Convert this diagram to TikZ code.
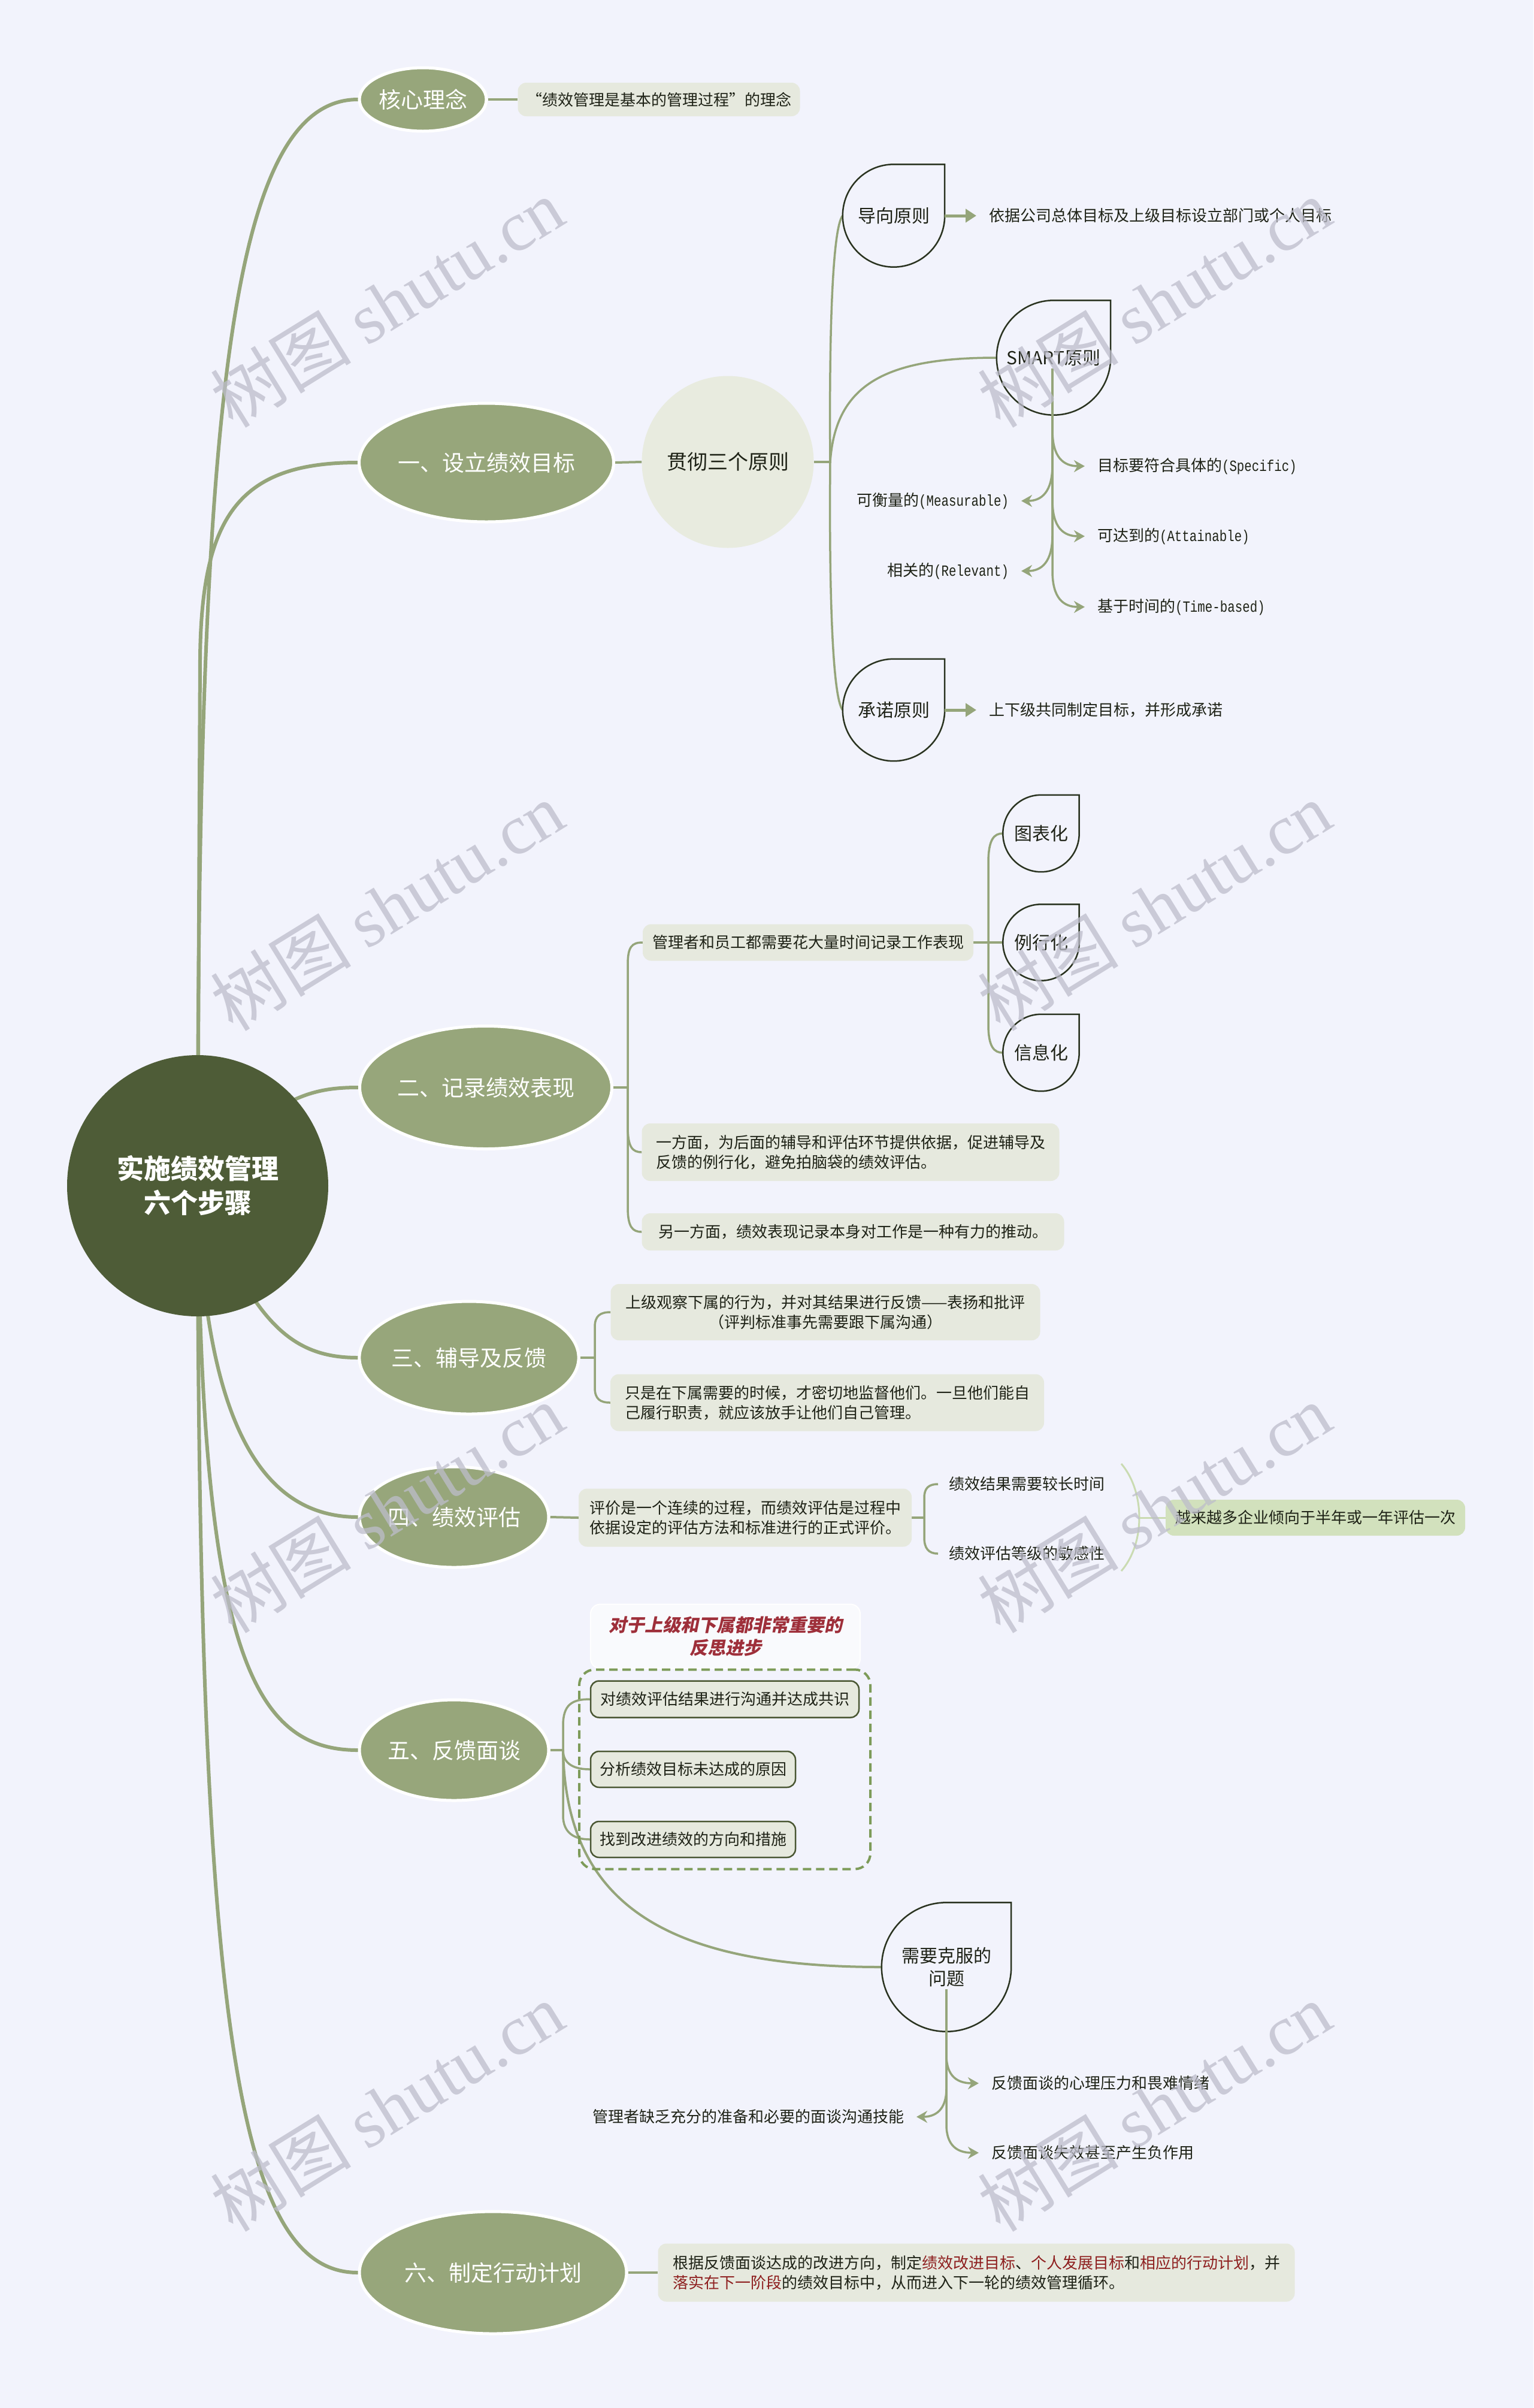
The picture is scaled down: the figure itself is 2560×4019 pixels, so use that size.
\documentclass[tikz,border=0pt]{standalone}
\usepackage{fontspec}
\setmainfont{Noto Sans CJK SC}
\newfontfamily\mono{Liberation Mono}[FakeStretch=0.8]
\newfontfamily\slcjk{Noto Sans CJK SC}[FakeSlant=0.2]
\newfontfamily\wmserif{Liberation Serif}
\usetikzlibrary{calc,arrows.meta,shapes.geometric}
\definecolor{bg}{HTML}{F2F3FC}
\definecolor{mainc}{HTML}{97A67B}
\definecolor{rootc}{HTML}{4E5C37}
\definecolor{linec}{HTML}{95A57A}
\definecolor{boxc}{HTML}{E6E9DE}
\definecolor{circc}{HTML}{E8EBDF}
\definecolor{txt}{HTML}{1E2216}
\definecolor{shapeline}{HTML}{2A3320}
\definecolor{sumc}{HTML}{D2E1BD}
\definecolor{bracec}{HTML}{CADBB2}
\definecolor{dashc}{HTML}{7D9B59}
\definecolor{redt}{HTML}{9E2F3A}
\definecolor{redt2}{HTML}{8E1F1F}
\definecolor{wmc}{HTML}{BDBDCB}
\definecolor{boxline}{HTML}{4A5733}
\newcommand\tear[1]{%
 \draw[tearline] (#1.north) -- (#1.north east) -- (#1.east)
   .. controls ($(#1.east)!0.5523!(#1.south east)$) and ($(#1.south)!0.5523!(#1.south east)$) .. (#1.south)
   .. controls ($(#1.south)!0.5523!(#1.south west)$) and ($(#1.west)!0.5523!(#1.south west)$) .. (#1.west)
   .. controls ($(#1.west)!0.5523!(#1.north west)$) and ($(#1.north)!0.5523!(#1.north west)$) .. (#1.north) -- cycle;}
\newcommand\R[1]{\textcolor{redt2}{#1}}
\pgfdeclarelayer{back}\pgfdeclarelayer{conn}\pgfdeclarelayer{front}
\pgfsetlayers{back,conn,main,front}
\tikzset{
 mainnode/.style={ellipse, fill=mainc, draw=white, line width=5pt, text=white, inner sep=0pt, font=\fontsize{37}{44}\selectfont},
 boxnode/.style={rectangle, rounded corners=14pt, fill=boxc, text=txt, inner sep=0pt, align=left, font=\fontsize{26}{33}\selectfont},
 framed/.style={boxnode, draw=boxline, line width=2.5pt},
 plain/.style={inner sep=0pt, outer xsep=21pt, outer ysep=0pt, text=txt, font=\fontsize{26}{33}\selectfont},
 tearnode/.style={rectangle, inner sep=0pt, text=txt, align=center, font=\fontsize{30}{38}\selectfont},
 tearline/.style={draw=shapeline, line width=2.5pt},
 rootline/.style={draw=linec, line width=6pt, line cap=round},
 l2/.style={draw=linec, line width=4pt},
 l3/.style={draw=linec, line width=3.5pt},
 arr/.style={draw=linec, line width=5pt, -{Triangle[length=18pt,width=22pt]}},
 brarr/.style={draw=linec, line width=3.5pt, -{Stealth[length=18pt,width=20pt]}},
 bracel/.style={draw=bracec, line width=3pt},
 wm/.style={text=wmc, opacity=0.75, rotate=31.7, inner sep=0pt, font=\fontsize{118}{118}\selectfont},
}
\begin{document}
\begin{tikzpicture}[x=1pt,y=-1pt]
\useasboundingbox (0,0) rectangle (2560,4019);
\begin{pgfonlayer}{back}
\fill[bg] (0,0) rectangle (2560,4019);
\end{pgfonlayer}

% root
\node[circle, fill=rootc, minimum size=436pt, inner sep=0pt, text=white, align=center, font=\fontsize{45}{57}\selectfont\bfseries] (root) at (330,1979) {实施绩效管理\\六个步骤};

% main nodes
\node[mainnode, minimum width=212pt, minimum height=106pt] (n0) at (706,166) {核心理念};
\node[mainnode, minimum width=425pt, minimum height=198pt] (n1) at (812,772) {一、设立绩效目标};
\node[mainnode, minimum width=421pt, minimum height=205pt] (n2) at (811,1815) {二、记录绩效表现};
\node[mainnode, minimum width=366pt, minimum height=188pt] (n3) at (783,2266) {三、辅导及反馈};
\node[mainnode, minimum width=316pt, minimum height=168pt] (n4) at (758,2532) {四、绩效评估};
\node[mainnode, minimum width=316pt, minimum height=168pt] (n5) at (758,2921) {五、反馈面谈};
\node[mainnode, minimum width=446pt, minimum height=204pt] (n6) at (823,3793) {六、制定行动计划};

% section 0
\node[boxnode, minimum width=471pt, minimum height=56pt, align=center] (b0) at (1100,166) {“绩效管理是基本的管理过程”的理念};

% section 1
\node[circle, fill=circc, minimum size=287pt, inner sep=0pt, text=txt, font=\fontsize{34}{40}\selectfont] (c1) at (1215,771) {贯彻三个原则};
\node[tearnode, minimum width=170pt, minimum height=171pt] (p1) at (1492,360) {导向原则};
\node[tearnode, minimum width=190pt, minimum height=191pt] (p2) at (1759,597) {SMART原则};
\node[tearnode, minimum width=170pt, minimum height=170pt] (p3) at (1492,1185) {承诺原则};
\tear{p1}\tear{p2}\tear{p3}
\node[plain, anchor=west] (d1) at (1630,360) {依据公司总体目标及上级目标设立部门或个人目标};
\node[plain, anchor=west] (d3) at (1630,1185) {上下级共同制定目标，并形成承诺};
\node[plain, anchor=west] (s1) at (1811,778) {目标要符合具体的{\mono (Specific)}};
\node[plain, anchor=east] (m1) at (1705,836) {可衡量的{\mono (Measurable)}};
\node[plain, anchor=west] (s2) at (1811,895) {可达到的{\mono (Attainable)}};
\node[plain, anchor=east] (m2) at (1705,953) {相关的{\mono (Relevant)}};
\node[plain, anchor=west] (s3) at (1811,1013) {基于时间的{\mono (Time-based)}};

% section 2
\node[boxnode, minimum width=552pt, minimum height=61pt] (b21) at (1349,1573) {管理者和员工都需要花大量时间记录工作表现};
\node[boxnode, minimum width=697pt, minimum height=96pt] (b22) at (1420,1923) {一方面，为后面的辅导和评估环节提供依据，促进辅导及\\反馈的例行化，避免拍脑袋的绩效评估。};
\node[boxnode, minimum width=705pt, minimum height=62pt] (b23) at (1424,2056) {另一方面，绩效表现记录本身对工作是一种有力的推动。};
\node[tearnode, minimum width=127pt, minimum height=128pt] (q1) at (1738,1391) {图表化};
\node[tearnode, minimum width=127pt, minimum height=127pt] (q2) at (1738,1573) {例行化};
\node[tearnode, minimum width=127pt, minimum height=128pt] (q3) at (1738,1757) {信息化};
\tear{q1}\tear{q2}\tear{q3}

% section 3
\node[boxnode, minimum width=717pt, minimum height=94pt, align=center] (b31) at (1378,2190) {上级观察下属的行为，并对其结果进行反馈——表扬和批评\\（评判标准事先需要跟下属沟通）};
\node[boxnode, minimum width=724pt, minimum height=95pt] (b32) at (1381,2341) {只是在下属需要的时候，才密切地监督他们。一旦他们能自\\己履行职责，就应该放手让他们自己管理。};

% section 4
\node[boxnode, minimum width=556pt, minimum height=97pt] (b41) at (1244,2533) {评价是一个连续的过程，而绩效评估是过程中\\依据设定的评估方法和标准进行的正式评价。};
\node[plain, anchor=west, outer xsep=18pt] (e41) at (1566,2477) {绩效结果需要较长时间};
\node[plain, anchor=west, outer xsep=18pt] (e42) at (1566,2593) {绩效评估等级的敏感性};
\node[boxnode, fill=sumc, minimum width=500pt, minimum height=60pt, align=center] (b42) at (2196,2533) {越来越多企业倾向于半年或一年评估一次};

% section 5
\node[rectangle, rounded corners=16pt, fill=white, fill opacity=0.6, text opacity=1, draw=white, line width=2pt, minimum width=450pt, minimum height=107pt, inner sep=0pt, align=center, text=redt, font=\fontsize{30}{38}\selectfont\slcjk\bfseries] (tb) at (1211,2731) {对于上级和下属都非常重要的\\反思进步};
\node[rectangle, draw=dashc, dash pattern=on 14pt off 8pt, line width=4pt, rounded corners=26pt, minimum width=486pt, minimum height=333pt, inner sep=0pt] (f5) at (1210,2953) {};
\node[framed, minimum width=448pt, minimum height=61pt] (b51) at (1210,2836) {对绩效评估结果进行沟通并达成共识};
\node[framed, minimum width=342pt, minimum height=60pt] (b52) at (1157,2953) {分析绩效目标未达成的原因};
\node[framed, minimum width=342pt, minimum height=60pt] (b53) at (1157,3070) {找到改进绩效的方向和措施};
\node[tearnode, minimum width=216pt, minimum height=215pt] (p5) at (1580,3283) {需要克服的\\问题};
\tear{p5}
\node[plain, anchor=west] (r1) at (1634,3477) {反馈面谈的心理压力和畏难情绪};
\node[plain, anchor=east] (r2) at (1530,3533) {管理者缺乏充分的准备和必要的面谈沟通技能};
\node[plain, anchor=west] (r3) at (1634,3593) {反馈面谈失效甚至产生负作用};

% section 6
\node[boxnode, minimum width=1063pt, minimum height=97pt] (b6) at (1630,3793) {根据反馈面谈达成的改进方向，制定\R{绩效改进目标}、\R{个人发展目标}和\R{相应的行动计划}，并\\\R{落实在下一阶段}的绩效目标中，从而进入下一轮的绩效管理循环。};

% helper coordinates
\coordinate (t1) at (1386,771);
\coordinate (s0) at (1757,615);
\coordinate (t2) at (1048,1815);
\coordinate (t21) at (1650,1573);
\coordinate (t3) at (993,2266);
\coordinate (t4) at (1543,2533);
\coordinate (bm) at (1902,2533);
\coordinate (t5) at (940,2921);
\coordinate (u0) at (1580,3320);

\begin{pgfonlayer}{conn}
% root connectors
\draw[rootline] (root.center) .. controls (330,700) and (380,166) .. (n0.west);
\draw[rootline] (root.center) -- (334,1100) .. controls (336,860) and (400,772) .. (n1.west);
\draw[rootline] (root.center) .. controls (450,1830) and (520,1815) .. (n2.west);
\draw[rootline] (root.center) .. controls (420,2200) and (480,2266) .. (n3.west);
\draw[rootline] (root.center) .. controls (340,2400) and (450,2532) .. (n4.west);
\draw[rootline] (root.center) .. controls (335,2750) and (420,2921) .. (n5.west);
\draw[rootline] (root.center) .. controls (330,3400) and (400,3793) .. (n6.west);
% section 0
\draw[l2] (n0.east) -- (b0.west);
% section 1
\draw[l2] (n1.east) -- (c1.west);
\draw[l2] (c1.east) -- (t1);
\draw[l3] (t1) .. controls (1384,550) and (1390,380) .. (p1.west);
\draw[l3] (t1) .. controls (1384,990) and (1390,1165) .. (p3.west);
\draw[l3] (t1) .. controls (1395,640) and (1480,597) .. (p2.west);
% section 2
\draw[l2] (n2.east) -- (t2);
\draw[l3] (t2) -- (1048,1610) .. controls (1048,1580) and (1055,1573) .. (b21.west);
\draw[l3] (t2) -- (1048,1880) .. controls (1048,1915) and (1056,1923) .. (b22.west);
\draw[l3] (t2) -- (1048,2015) .. controls (1048,2048) and (1056,2056) .. (b23.west);
\draw[l2] (b21.east) -- (t21);
\draw[l3] (t21) -- (1650,1440) .. controls (1650,1400) and (1660,1391) .. (q1.west);
\draw[l3] (t21) -- (q2.west);
\draw[l3] (t21) -- (1650,1710) .. controls (1650,1748) and (1660,1757) .. (q3.west);
% section 3
\draw[l2] (n3.east) -- (t3);
\draw[l3] (t3) -- (993,2215) .. controls (993,2196) and (1002,2190) .. (b31.west);
\draw[l3] (t3) -- (993,2316) .. controls (993,2335) and (1002,2341) .. (b32.west);
% section 4
\draw[l2] (n4.east) -- (b41.west);
\draw[l2] (b41.east) -- (t4);
\draw[l3] (t4) -- (1543,2500) .. controls (1543,2484) and (1550,2477) .. (e41.west);
\draw[l3] (t4) -- (1543,2566) .. controls (1543,2584) and (1550,2593) .. (e42.west);
\draw[bracel] (1872,2443) .. controls (1912,2490) and (1912,2576) .. (1872,2622);
\draw[bracel] (bm) -- (b42.west);
% section 5
\draw[l2] (n5.east) -- (t5);
\draw[l3] (t5) -- (940,2880) .. controls (940,2845) and (955,2836) .. (b51.west);
\draw[l3] (t5) .. controls (940,2945) and (960,2953) .. (b52.west);
\draw[l3] (t5) -- (940,3030) .. controls (940,3060) and (960,3070) .. (b53.west);
\draw[l2] (t5) .. controls (945,3170) and (1100,3283) .. (p5.west);
% section 6
\draw[l2] (n6.east) -- (b6.west);
\end{pgfonlayer}

% arrows and sub-branches (above shapes)
\draw[arr] (p1.east) -- (d1.west);
\draw[arr] (p3.east) -- (d3.west);
\draw[brarr] (s0) -- (1757,718) .. controls (1757,763) and (1775,778) .. (s1.west);
\draw[brarr] (s0) -- (1757,776) .. controls (1757,821) and (1739,836) .. (m1.east);
\draw[brarr] (s0) -- (1757,835) .. controls (1757,880) and (1775,895) .. (s2.west);
\draw[brarr] (s0) -- (1757,893) .. controls (1757,938) and (1739,953) .. (m2.east);
\draw[brarr] (s0) -- (1757,953) .. controls (1757,998) and (1775,1013) .. (s3.west);
\draw[brarr] (u0) -- (1580,3430) .. controls (1580,3465) and (1598,3477) .. (r1.west);
\draw[brarr] (u0) -- (1580,3486) .. controls (1580,3521) and (1562,3533) .. (r2.east);
\draw[brarr] (u0) -- (1580,3546) .. controls (1580,3581) and (1598,3593) .. (r3.west);

% watermarks
\begin{pgfonlayer}{front}
\node[wm] (wm1) at (646,505) {树图 {\wmserif shutu.cn}};
\node[wm] (wm2) at (1927,505) {树图 {\wmserif shutu.cn}};
\node[wm] (wm3) at (646,1512) {树图 {\wmserif shutu.cn}};
\node[wm] (wm4) at (1927,1512) {树图 {\wmserif shutu.cn}};
\node[wm] (wm5) at (646,2517) {树图 {\wmserif shutu.cn}};
\node[wm] (wm6) at (1927,2517) {树图 {\wmserif shutu.cn}};
\node[wm] (wm7) at (646,3516) {树图 {\wmserif shutu.cn}};
\node[wm] (wm8) at (1927,3516) {树图 {\wmserif shutu.cn}};
\end{pgfonlayer}
\end{tikzpicture}
\end{document}
